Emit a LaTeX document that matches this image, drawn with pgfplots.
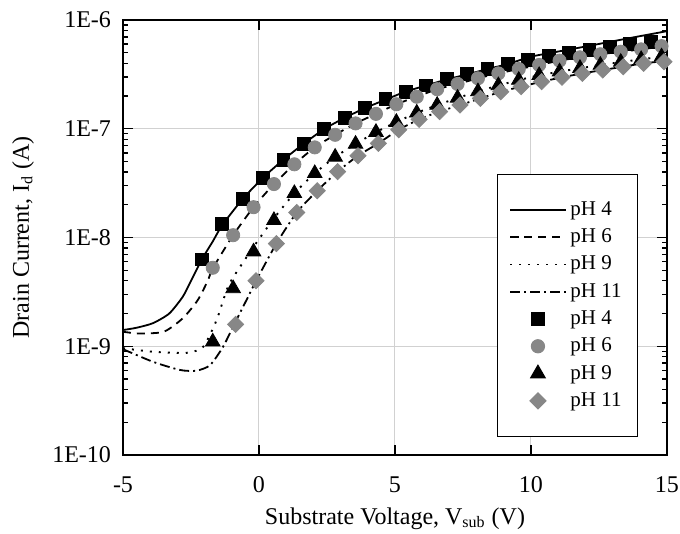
\documentclass[border=0pt]{standalone}
\usepackage{pgfplots}
\pgfplotsset{compat=1.18}
\usepackage{fontspec}
\setmainfont{Liberation Serif}
\definecolor{mgray}{RGB}{135,135,135}

\begin{document}
\begin{tikzpicture}
\begin{axis}[
    scale only axis,
    width=272pt, height=217.5pt,
    ymode=log,
    xmin=-5, xmax=15,
    ymin=1e-10, ymax=1e-6,
    xtick={-5,0,5,10,15},
    xticklabels={-5,0,5,10,15},
    ytick={1e-10,1e-9,1e-8,1e-7,1e-6},
    yticklabels={1E-10,1E-9,1E-8,1E-7,1E-6},
    minor ytick={2e-10,3e-10,4e-10,5e-10,6e-10,7e-10,8e-10,9e-10,
                 2e-9,3e-9,4e-9,5e-9,6e-9,7e-9,8e-9,9e-9,
                 2e-8,3e-8,4e-8,5e-8,6e-8,7e-8,8e-8,9e-8,
                 2e-7,3e-7,4e-7,5e-7,6e-7,7e-7,8e-7,9e-7},
    tick align=inside,
    major tick length=5pt,
    minor tick length=2.5pt,
    tick style={black, line width=0.7pt},
    axis line style={line width=1pt},
    grid=major,
    major grid style={line width=0.5pt, black!18},
    tick label style={font=\fontsize{12}{14}\selectfont},
    xticklabel style={yshift=-7.4pt},
    yticklabel style={xshift=-2.5pt},
    label style={font=\fontsize{12}{14}\selectfont},
    xlabel={Substrate Voltage, V\textsubscript{sub} (V)},
    ylabel={Drain Current, I\textsubscript{d} (A)},
    xlabel style={at={(axis description cs:0.5,-0.1586)}, anchor=base},
    ylabel style={at={(axis description cs:-0.1838,0.5)}, anchor=center},
    legend style={at={(0.6875,0.646)}, anchor=north west, draw=black, line width=0.5pt,
        font=\fontsize{10.5}{12}\selectfont, inner xsep=6pt, inner ysep=11.5pt, row sep=1.2pt,
        cells={anchor=west}},
    legend image code/.code={\draw[mark repeat=2,mark phase=2,#1] plot coordinates {(0pt,0pt) (13.75pt,0pt) (27.5pt,0pt)};},
]
% lines
\addplot[black, line width=0.9pt, smooth, tension=0.4] coordinates {
(-5,1.41e-9) (-4.5,1.48e-9) (-3.9,1.63e-9) (-3.3,2.0e-9) (-2.8,2.86e-9) (-2.5,4.0e-9)
(-2.1,6.3e-9) (-1.7,9.2e-9) (-1.35,1.3e-8) (-0.6,2.26e-8) (0.15,3.55e-8) (0.9,5.2e-8)
(1.65,7.3e-8) (2.4,9.95e-8) (3.15,1.26e-7) (3.9,1.55e-7) (4.65,1.85e-7) (5.4,2.2e-7)
(6.15,2.5e-7) (6.9,2.84e-7) (7.65,3.16e-7) (8.4,3.54e-7) (9.15,3.94e-7) (10,4.6e-7)
(11,5.13e-7) (12,5.7e-7) (13,6.37e-7) (14,7.1e-7) (15,7.9e-7)};
\addlegendentry{pH 4}
\addplot[black, line width=0.9pt, dash pattern=on 4pt off 3pt, smooth, tension=0.4] coordinates {
(-5,1.36e-9) (-4.4,1.31e-9) (-3.5,1.36e-9) (-2.8,1.81e-9) (-2.25,2.66e-9) (-1.87,4.07e-9)
(-1.7,5.2e-9) (-0.95,1.05e-8) (-0.2,1.9e-8) (0.55,3.1e-8) (1.3,4.71e-8) (2.05,6.74e-8)
(2.8,8.8e-8) (3.55,1.12e-7) (4.3,1.37e-7) (5.05,1.68e-7) (5.8,1.97e-7) (6.55,2.31e-7)
(7.3,2.58e-7) (8.05,2.91e-7) (8.8,3.23e-7) (9.55,3.54e-7) (10.3,3.86e-7) (11.05,4.23e-7)
(11.8,4.54e-7) (12.55,4.84e-7) (13.3,5.11e-7) (14.05,5.37e-7) (15,5.8e-7)};
\addlegendentry{pH 6}
\addplot[black, line width=0.95pt, dash pattern=on 1pt off 3.5pt, smooth, tension=0.4] coordinates {
(-5,9.6e-10) (-3.9,8.9e-10) (-2.66,8.7e-10) (-2.05,9.9e-10) (-1.56,1.74e-9) (-1.19,3.29e-9)
(-0.95,4.3e-9) (-0.2,8.2e-9) (0.55,1.5e-8) (1.3,2.55e-8) (2.05,3.89e-8) (2.8,5.5e-8)
(3.55,7.24e-8) (4.3,9.3e-8) (5.05,1.15e-7) (5.8,1.4e-7) (6.55,1.65e-7) (7.3,1.92e-7)
(8.05,2.2e-7) (8.8,2.5e-7) (9.55,2.8e-7) (10.3,3.1e-7) (11.05,3.35e-7) (11.8,3.6e-7)
(12.55,3.85e-7) (13.3,4.1e-7) (14.05,4.35e-7) (15,4.65e-7)};
\addlegendentry{pH 9}
\addplot[black, line width=0.9pt, dash pattern=on 5pt off 2pt on 1pt off 2pt, smooth, tension=0.4] coordinates {
(-5,9.4e-10) (-3.9,7.2e-10) (-2.9,6.05e-10) (-2.3,5.96e-10) (-1.8,6.7e-10) (-1.32,9.9e-10)
(-0.89,1.63e-9) (-0.46,2.66e-9) (-0.09,4.07e-9) (0.64,8.8e-9) (1.39,1.7e-8) (2.14,2.69e-8)
(2.89,4.03e-8) (3.64,5.65e-8) (4.39,7.35e-8) (5.14,9.8e-8) (5.89,1.22e-7) (6.64,1.44e-7)
(7.39,1.65e-7) (8.14,1.9e-7) (8.89,2.19e-7) (9.64,2.44e-7) (10.39,2.71e-7) (11.14,2.97e-7)
(11.89,3.23e-7) (12.64,3.47e-7) (13.39,3.72e-7) (14.14,4.0e-7) (15,4.2e-7)};
\addlegendentry{pH 11}
% markers
\addplot[only marks, mark=square*, mark size=3.2pt, black] coordinates {
(-2.1,6.3e-9) (-1.35,1.33e-8) (-0.6,2.26e-8) (0.15,3.55e-8) (0.9,5.2e-8) (1.65,7.3e-8)
(2.4,9.95e-8) (3.15,1.26e-7) (3.9,1.55e-7) (4.65,1.88e-7) (5.4,2.2e-7) (6.15,2.5e-7)
(6.9,2.85e-7) (7.65,3.17e-7) (8.4,3.54e-7) (9.15,3.93e-7) (9.9,4.3e-7) (10.65,4.7e-7)
(11.4,5.02e-7) (12.15,5.32e-7) (12.9,5.7e-7) (13.65,6.0e-7) (14.4,6.3e-7)};
\addlegendentry{pH 4}
\addplot[only marks, mark=*, mark size=3.3pt, mgray, mark options={draw=mgray, fill=mgray}] coordinates {
(-1.7,5.27e-9) (-0.95,1.05e-8) (-0.2,1.9e-8) (0.55,3.1e-8) (1.3,4.71e-8) (2.05,6.74e-8)
(2.8,8.8e-8) (3.55,1.12e-7) (4.3,1.37e-7) (5.05,1.68e-7) (5.8,1.97e-7) (6.55,2.31e-7)
(7.3,2.58e-7) (8.05,2.91e-7) (8.8,3.23e-7) (9.55,3.54e-7) (10.3,3.86e-7) (11.05,4.23e-7)
(11.8,4.54e-7) (12.55,4.84e-7) (13.3,5.11e-7) (14.05,5.37e-7) (14.8,5.75e-7)};
\addlegendentry{pH 6}
\addplot[only marks, mark=triangle*, mark size=4.2pt, black] coordinates {
(-1.7,1.1e-9) (-0.95,3.4e-9) (-0.2,7.4e-9) (0.55,1.44e-8) (1.3,2.55e-8) (2.05,3.89e-8)
(2.8,5.5e-8) (3.55,7.24e-8) (4.3,9.3e-8) (5.05,1.15e-7) (5.8,1.4e-7) (6.55,1.65e-7)
(7.3,1.92e-7) (8.05,2.2e-7) (8.8,2.5e-7) (9.55,2.8e-7) (10.3,3.1e-7) (11.05,3.35e-7)
(11.8,3.6e-7) (12.55,3.85e-7) (13.3,4.1e-7) (14.05,4.35e-7) (14.8,4.6e-7)};
\addlegendentry{pH 9}
\addplot[only marks, mark=square*, mark size=2.85pt, mgray, mark options={rotate=45, draw=mgray, fill=mgray}] coordinates {
(-0.86,1.59e-9) (-0.11,4.0e-9) (0.64,8.8e-9) (1.39,1.7e-8) (2.14,2.69e-8) (2.89,4.03e-8)
(3.64,5.65e-8) (4.39,7.35e-8) (5.14,9.8e-8) (5.89,1.22e-7) (6.64,1.44e-7) (7.39,1.65e-7)
(8.14,1.9e-7) (8.89,2.19e-7) (9.64,2.44e-7) (10.39,2.71e-7) (11.14,2.97e-7) (11.89,3.23e-7)
(12.64,3.47e-7) (13.39,3.72e-7) (14.14,4.0e-7) (14.89,4.14e-7)};
\addlegendentry{pH 11}
\end{axis}
\pgfresetboundingbox
\path ([xshift=-61.5pt,yshift=-39.5pt]current axis.south west) rectangle ([xshift=6.5pt,yshift=10pt]current axis.north east);
\end{tikzpicture}
\end{document}
